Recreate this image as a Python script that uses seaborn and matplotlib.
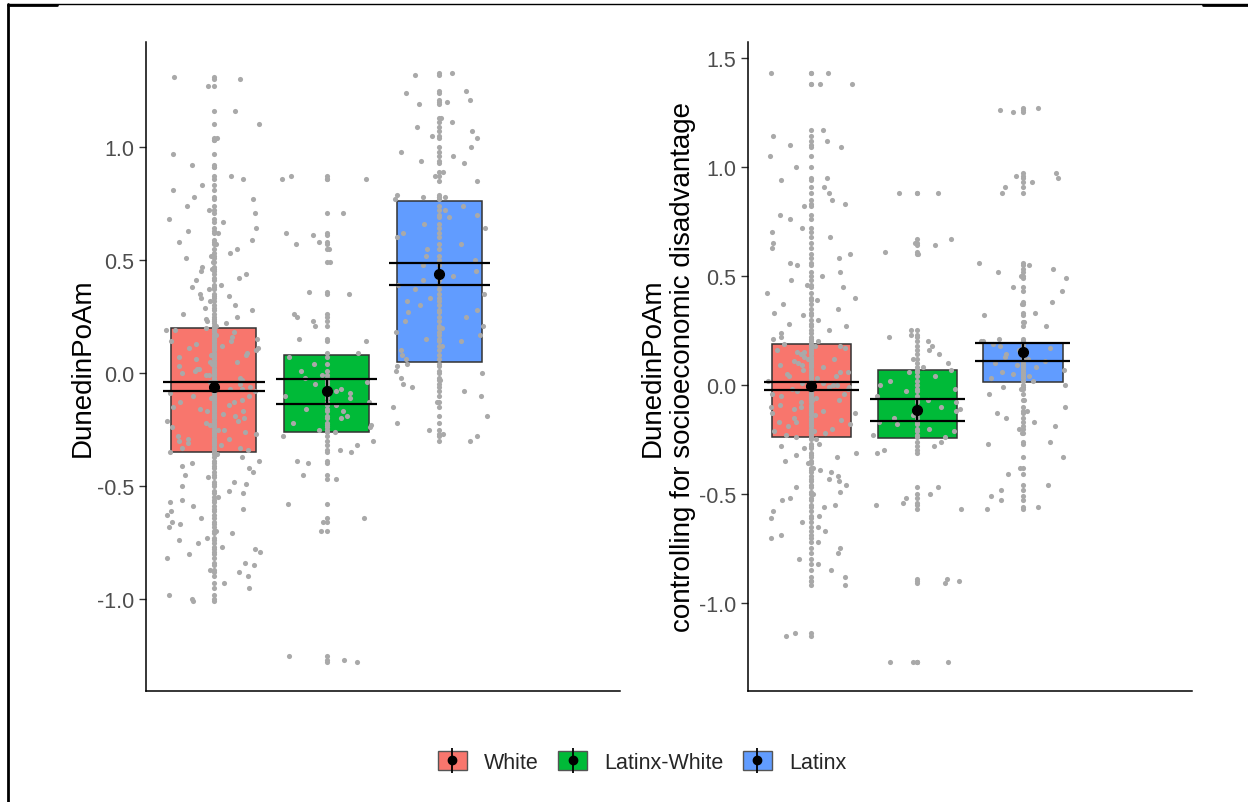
import numpy as np
import pandas as pd
import matplotlib
matplotlib.use('Agg')
import matplotlib.pyplot as plt
from matplotlib.lines import Line2D
from matplotlib.patches import Patch
import seaborn as sns

sns.set_theme(style='ticks')
plt.rcParams['font.family'] = ['Liberation Sans', 'DejaVu Sans']
plt.rcParams['axes.unicode_minus'] = False

## ---------------------------
## datos
## ---------------------------
grupos = ['White', 'Latinx-White', 'Latinx']
colores = ['#F8766D', '#00BA38', '#619CFF']

# panel izquierdo: DunedinPoAm
white_izq = [1.31, 1.30, 1.27, 1.16, 1.10, 1.04, 1.03, 0.97, 0.92, 0.91, 0.87, 0.86, 0.83, 0.81, 0.78,
             0.77, 0.74, 0.72, 0.71, 0.68, 0.67, 0.64, 0.63, 0.62, 0.59, 0.58, 0.57, 0.55, 0.53, 0.52,
             0.51, 0.49, 0.47, 0.46, 0.45, 0.44, 0.42, 0.41, 0.39, 0.38, 0.37, 0.35, 0.34, 0.33, 0.32,
             0.30, 0.29, 0.28, 0.26, 0.25, 0.24, 0.23, 0.22, 0.21,
             0.20, 0.19, 0.19, 0.18, 0.17, 0.16, 0.15, 0.14, 0.14, 0.13, 0.12, 0.11, 0.11, 0.10, 0.09,
             0.08, 0.08, 0.07, 0.06, 0.05, 0.05, 0.04, 0.03, 0.02, 0.02, 0.01, 0.00, -0.01, -0.01, -0.02,
             -0.03, -0.04, -0.04, -0.05, -0.06, -0.07, -0.07, -0.08, -0.09, -0.10, -0.10, -0.11, -0.12,
             -0.13, -0.13, -0.14, -0.15, -0.16, -0.17, -0.17, -0.18, -0.19, -0.20, -0.21, -0.21, -0.22,
             -0.23, -0.24, -0.25, -0.25, -0.26, -0.27, -0.28, -0.29, -0.29, -0.30, -0.31, -0.32, -0.33,
             -0.33, -0.34, -0.35,
             -0.36, -0.37, -0.39, -0.40, -0.41, -0.42, -0.44, -0.45, -0.46, -0.48, -0.49, -0.50, -0.52,
             -0.53, -0.55, -0.56, -0.57, -0.59, -0.60, -0.61, -0.63, -0.64, -0.66, -0.67, -0.68, -0.70,
             -0.71, -0.73, -0.74, -0.75, -0.77, -0.78, -0.79, -0.80, -0.82, -0.84, -0.85, -0.87, -0.88,
             -0.90, -0.93, -0.95, -0.98, -1.00, -1.01]
latwhite_izq = [0.87, 0.86, 0.86, 0.71, 0.62, 0.61, 0.58, 0.57, 0.55, 0.49, 0.36, 0.35, 0.26, 0.25,
                0.23, 0.21, 0.15, 0.14, 0.09,
                0.07, 0.04, 0.01, -0.01, -0.02, -0.03, -0.04, -0.05, -0.07, -0.08, -0.09, -0.10, -0.11,
                -0.13, -0.14, -0.16, -0.17, -0.19, -0.20, -0.22, -0.23, -0.24, -0.25, -0.26,
                -0.28, -0.30, -0.32, -0.34, -0.35, -0.39, -0.40, -0.45, -0.47, -0.58, -0.64, -0.66,
                -0.70, -1.25, -1.27, -1.28]
latinx_izq = [1.33, 1.32, 1.25, 1.24, 1.21, 1.20, 1.19, 1.13, 1.11, 1.09, 1.07, 1.05, 1.04, 1.00, 0.98,
              0.96, 0.94, 0.93, 0.89, 0.87, 0.85, 0.79, 0.78, 0.78, 0.77,
              0.74, 0.72, 0.70, 0.69, 0.66, 0.64, 0.62, 0.60, 0.57, 0.55, 0.52, 0.50, 0.48, 0.45, 0.43,
              0.41, 0.39, 0.37, 0.35, 0.33, 0.32, 0.30, 0.28, 0.27, 0.25, 0.23, 0.21, 0.20, 0.18, 0.17,
              0.15, 0.14, 0.12, 0.10, 0.08, 0.06,
              0.04, 0.03, 0.01, 0.00, -0.02, -0.03, -0.05, -0.06, -0.08, -0.10, -0.13, -0.15, -0.19,
              -0.22, -0.25, -0.27, -0.28, -0.30]

# panel derecho: DunedinPoAm ajustado
white_der = [1.43, 1.43, 1.38, 1.38, 1.17, 1.14, 1.12, 1.10, 1.09, 1.05, 1.00, 0.95, 0.94, 0.91, 0.88,
             0.85, 0.83, 0.82, 0.78, 0.76, 0.72, 0.70, 0.68, 0.65, 0.63, 0.60, 0.58, 0.56, 0.55, 0.52,
             0.50, 0.48, 0.46, 0.45, 0.42, 0.40, 0.39, 0.37, 0.35, 0.33, 0.32, 0.30, 0.28, 0.27, 0.25,
             0.24, 0.22, 0.21, 0.20,
             0.19, 0.18, 0.18, 0.17, 0.16, 0.15, 0.15, 0.14, 0.13, 0.12, 0.12, 0.11, 0.10, 0.09, 0.09,
             0.08, 0.07, 0.06, 0.06, 0.05, 0.04, 0.04, 0.03, 0.02, 0.01, 0.01, 0.00, 0.00, -0.01, -0.01,
             -0.02, -0.02, -0.03, -0.04, -0.04, -0.05, -0.06, -0.07, -0.07, -0.08, -0.09, -0.10, -0.10,
             -0.11, -0.12, -0.13, -0.13, -0.14, -0.15, -0.16, -0.17, -0.17, -0.18, -0.19, -0.20, -0.21,
             -0.21, -0.22, -0.23, -0.24,
             -0.25, -0.27, -0.28, -0.29, -0.31, -0.32, -0.33, -0.35, -0.36, -0.38, -0.39, -0.40, -0.42,
             -0.43, -0.44, -0.46, -0.47, -0.49, -0.50, -0.52, -0.53, -0.55, -0.56, -0.58, -0.60, -0.61,
             -0.63, -0.65, -0.67, -0.69, -0.70, -0.72, -0.75, -0.77, -0.80, -0.82, -0.85, -0.88, -0.90,
             -0.92, -1.14, -1.15]
latwhite_der = [0.88, 0.88, 0.67, 0.65, 0.64, 0.61, 0.60, 0.25, 0.23, 0.22, 0.20, 0.18, 0.16, 0.14,
                0.12, 0.10, 0.08,
                0.07, 0.06, 0.04, 0.02, 0.00, -0.02, -0.03, -0.05, -0.07, -0.08, -0.10, -0.11, -0.12,
                -0.14, -0.15, -0.17, -0.18, -0.20, -0.21, -0.23, -0.24,
                -0.26, -0.28, -0.30, -0.31, -0.47, -0.50, -0.52, -0.54, -0.55, -0.57, -0.89, -0.90,
                -0.91, -1.27, -1.27, -1.27]
latinx_der = [1.27, 1.26, 1.25, 0.97, 0.96, 0.95, 0.93, 0.91, 0.88, 0.56, 0.55, 0.53, 0.52, 0.50,
              0.49, 0.45, 0.43, 0.38, 0.37, 0.33, 0.32, 0.29, 0.27, 0.21, 0.20, 0.20,
              0.19, 0.18, 0.17, 0.16, 0.15, 0.14, 0.13, 0.12, 0.11, 0.10, 0.09, 0.08, 0.07, 0.06,
              0.05, 0.04, 0.03, 0.02,
              0.00, -0.01, -0.02, -0.04, -0.07, -0.10, -0.12, -0.13, -0.15, -0.17, -0.19, -0.20,
              -0.22, -0.26, -0.27, -0.33, -0.38, -0.41, -0.46, -0.48, -0.51, -0.53, -0.56, -0.57]

# resumenes: caja (inferior, superior), media y error estandar
caja_inf_izq = [-0.35, -0.26, 0.05]
caja_sup_izq = [0.20, 0.08, 0.76]
media_izq = [-0.06, -0.08, 0.44]
ee_inf_izq = [-0.08, -0.135, 0.39]
ee_sup_izq = [-0.04, -0.027, 0.487]

caja_inf_der = [-0.24, -0.243, 0.014]
caja_sup_der = [0.188, 0.069, 0.193]
media_der = [-0.005, -0.115, 0.151]
ee_inf_der = [-0.023, -0.165, 0.11]
ee_sup_der = [0.014, -0.064, 0.193]


def armar_df(a, b, c):
    return pd.DataFrame({
        'grupo': ['White'] * len(a) + ['Latinx-White'] * len(b) + ['Latinx'] * len(c),
        'valor': a + b + c,
    })


def dibujar_panel(ax, df, caja_inf, caja_sup, media, ee_inf, ee_sup, ylim, yticks, ylabel):
    pos = np.arange(len(grupos))
    alto = np.array(caja_sup) - np.array(caja_inf)
    ax.bar(pos, alto, bottom=caja_inf, width=0.75, color=colores,
           edgecolor='#333333', linewidth=1.1, zorder=1)
    sns.stripplot(data=df, x='grupo', y='valor', order=grupos, jitter=0.42,
                  color='darkgrey', size=3.7, linewidth=0, ax=ax, zorder=2)
    sns.stripplot(data=df, x='grupo', y='valor', order=grupos, jitter=False,
                  color='darkgrey', size=3.7, linewidth=0, ax=ax, zorder=2)
    ax.hlines(ee_inf, pos - 0.45, pos + 0.45, color='black', linewidth=1.6, zorder=3)
    ax.hlines(ee_sup, pos - 0.45, pos + 0.45, color='black', linewidth=1.6, zorder=3)
    ax.vlines(pos, ee_inf, ee_sup, color='black', linewidth=1.6, zorder=3)
    ax.plot(pos, media, 'o', color='black', markersize=7, zorder=4)

    ax.set_xlim(-0.6, 3.6)
    ax.set_ylim(*ylim)
    ax.set_yticks(yticks)
    ax.set_yticklabels([f'{t:.1f}' for t in yticks])
    ax.set_xticks([])
    ax.set_xlabel('')
    ax.set_ylabel(ylabel, fontsize=20, color='black')
    ax.tick_params(axis='y', length=5, width=1.0, color='#333333',
                   labelcolor='#4D4D4D', labelsize=15.5)
    for lado in ['top', 'right']:
        ax.spines[lado].set_visible(False)
    for lado in ['left', 'bottom']:
        ax.spines[lado].set_color('black')
        ax.spines[lado].set_linewidth(1.1)


np.random.seed(7)
fig = plt.figure(figsize=(12.48, 8.03), dpi=100)
W, H = 1248, 803

ax1 = fig.add_axes([146 / W, 1 - 692 / H, (620 - 146) / W, (692 - 43) / H])
ax2 = fig.add_axes([748 / W, 1 - 692 / H, (1192 - 748) / W, (692 - 43) / H])

dibujar_panel(ax1, armar_df(white_izq, latwhite_izq, latinx_izq),
              caja_inf_izq, caja_sup_izq, media_izq, ee_inf_izq, ee_sup_izq,
              (-1.407, 1.465), [-1.0, -0.5, 0.0, 0.5, 1.0], 'DunedinPoAm')
dibujar_panel(ax2, armar_df(white_der, latwhite_der, latinx_der),
              caja_inf_der, caja_sup_der, media_der, ee_inf_der, ee_sup_der,
              (-1.404, 1.573), [-1.0, -0.5, 0.0, 0.5, 1.0, 1.5],
              'DunedinPoAm\ncontrolling for socioeconomic disadvantage')
ax1.yaxis.set_label_coords(-0.105, 0.5)
ax2.yaxis.set_label_coords(-0.117, 0.5)

# leyenda inferior
manejadores = []
for c in colores:
    manejadores.append((Patch(facecolor=c, edgecolor='#555555', linewidth=1.0),
                        Line2D([], [], marker='|', color='black', markersize=18,
                               markeredgewidth=1.3, linestyle='None'),
                        Line2D([], [], marker='o', color='black', markersize=6,
                               linestyle='None')))
fig.legend(manejadores, grupos, loc='center', bbox_to_anchor=(642 / W, 1 - 763 / H),
           ncol=3, frameon=False, fontsize=15.5, handlelength=1.35, handleheight=0.95,
           handletextpad=0.8, columnspacing=0.9)

# marco de la pagina
fig.add_artist(Line2D([8 / W, 1.0], [1 - 5 / H, 1 - 5 / H], transform=fig.transFigure,
                      color='black', linewidth=1.0))
fig.add_artist(Line2D([8 / W, 57 / W], [1 - 5.5 / H, 1 - 5.5 / H], transform=fig.transFigure,
                      color='black', linewidth=2.0))
fig.add_artist(Line2D([1203 / W, 1.0], [1 - 5.5 / H, 1 - 5.5 / H], transform=fig.transFigure,
                      color='black', linewidth=2.0))
fig.add_artist(Line2D([8 / W, 8 / W], [0.0, 1 - 5 / H], transform=fig.transFigure,
                      color='black', linewidth=2.0))

fig.savefig('out.png', dpi=100, facecolor='white')
